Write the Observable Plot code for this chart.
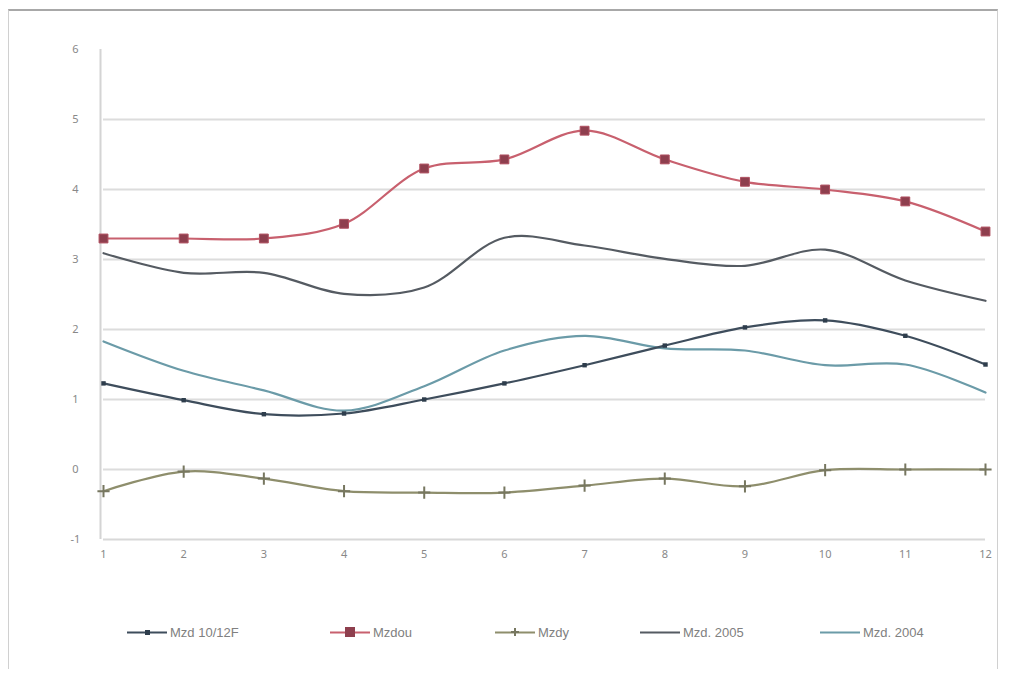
<!DOCTYPE html>
<html>
<head>
<meta charset="utf-8">
<script src="https://cdn.jsdelivr.net/npm/d3@7"></script>
<script src="https://cdn.jsdelivr.net/npm/@observablehq/plot@0.6"></script>
<style>
  body { margin: 0; background: #fff; font-family: "Liberation Sans", Arial, sans-serif; }
  #frame { position: absolute; left: 8px; top: 9px; width: 990px; height: 660px; border-top: 2px solid #a8a8a8; border-left: 1px solid #d0d0d0; border-right: 1px solid #d0d0d0; box-sizing: border-box; }
  #chart { position: absolute; left: 0; top: 0; }
  #legend { position: absolute; left: 0; top: 620px; width: 1013px; height: 24px; }
  .item { position: absolute; top: 0; display: flex; align-items: center; height: 24px; font-size: 13px; color: #808080; }
  .item svg { margin-right: 3px; }
</style>
</head>
<body>
<div id="frame"></div>
<div id="chart"></div>
<div id="legend"></div>
<script>
const months = [1,2,3,4,5,6,7,8,9,10,11,12];
const seriesNames = ["Mzd 10/12F", "Mzdou", "Mzdy", "Mzd. 2005", "Mzd. 2004"];
const s1 = [1.23, 0.99, 0.79, 0.80, 1.00, 1.23, 1.49, 1.77, 2.03, 2.13, 1.91, 1.50];
const s2 = [3.30, 3.30, 3.30, 3.51, 4.30, 4.43, 4.84, 4.43, 4.11, 4.00, 3.83, 3.40];
const s3 = [-0.31, -0.03, -0.13, -0.31, -0.33, -0.33, -0.23, -0.13, -0.24, -0.01, 0.00, 0.00];
const s4 = [3.09, 2.81, 2.81, 2.51, 2.60, 3.31, 3.20, 3.01, 2.91, 3.14, 2.70, 2.41];
const s5 = [1.83, 1.41, 1.13, 0.84, 1.19, 1.70, 1.91, 1.73, 1.70, 1.49, 1.50, 1.10];
const yTicks = [-1, 0, 1, 2, 3, 4, 5, 6];

const colors = ["#3e4d5c", "#c8606e", "#8e8e6c", "#555b62", "#6b9ba8"];
const values = [s1, s2, s3, s4, s5];
const data = [];
seriesNames.forEach((name, i) => months.forEach((m, j) => data.push({series: name, month: m, value: values[i][j]})));
const bySeries = name => data.filter(d => d.series === name);

const lineOrder = [4, 3, 0, 2, 1];
const marks = [
  Plot.ruleY(yTicks.filter(t => t > -1 && t < 6), {y: d => d, stroke: "#dcdcdc", strokeWidth: 2}),
  Plot.ruleY([-1], {stroke: "#d8d8d8", strokeWidth: 2}),
  Plot.ruleX([1], {y1: -1, y2: 6, stroke: "#d4d4d4", strokeWidth: 2, dx: -3}),
  Plot.text(yTicks, {x: 1, y: d => d, text: d => String(d), dx: -28, fill: "#888", fontSize: 11}),
  Plot.text(months, {x: d => d, y: -1, text: d => String(d), dy: 15, fill: "#888", fontSize: 11})
];
lineOrder.forEach(i => {
  marks.push(Plot.line(bySeries(seriesNames[i]), {x: "month", y: "value", stroke: colors[i], strokeWidth: 2.2, curve: "catmull-rom"}));
});
marks.push(Plot.dot(bySeries(seriesNames[1]), {x: "month", y: "value", symbol: "square", r: 5, fill: "#8e3f4e", stroke: "#b05060", strokeWidth: 1}));
marks.push(Plot.dot(bySeries(seriesNames[0]), {x: "month", y: "value", symbol: "square", r: 2.5, fill: "#2e3d4c"}));
marks.push(Plot.dot(bySeries(seriesNames[2]), {x: "month", y: "value", symbol: "plus", r: 4, stroke: "#777760", strokeWidth: 2}));

const chart = Plot.plot({
  width: 1013,
  height: 580,
  marginTop: 49,
  marginBottom: 41,
  marginLeft: 103,
  marginRight: 28,
  x: {domain: [1, 12], axis: null},
  y: {domain: [-1, 6], axis: null},
  style: {background: "transparent"},
  marks
});
document.getElementById("chart").appendChild(chart);

const legendPos = [127, 330, 495, 640, 820];
const legend = document.getElementById("legend");
seriesNames.forEach((name, i) => {
  const div = document.createElement("div");
  div.className = "item";
  div.style.left = legendPos[i] + "px";
  let marker = "";
  if (i === 1) marker = `<rect x="15" y="7" width="10" height="10" fill="#8e3f4e"/>`;
  if (i === 0) marker = `<rect x="18" y="10" width="5" height="5" fill="#2e3d4c"/>`;
  if (i === 2) marker = `<path d="M20,8v8M16,12h8" stroke="#777760" stroke-width="2"/>`;
  div.innerHTML = `<svg width="40" height="24"><line x1="0" x2="40" y1="12.5" y2="12.5" stroke="${colors[i]}" stroke-width="2.2"/>${marker}</svg><span>${name}</span>`;
  legend.appendChild(div);
});
</script>
</body>
</html>
